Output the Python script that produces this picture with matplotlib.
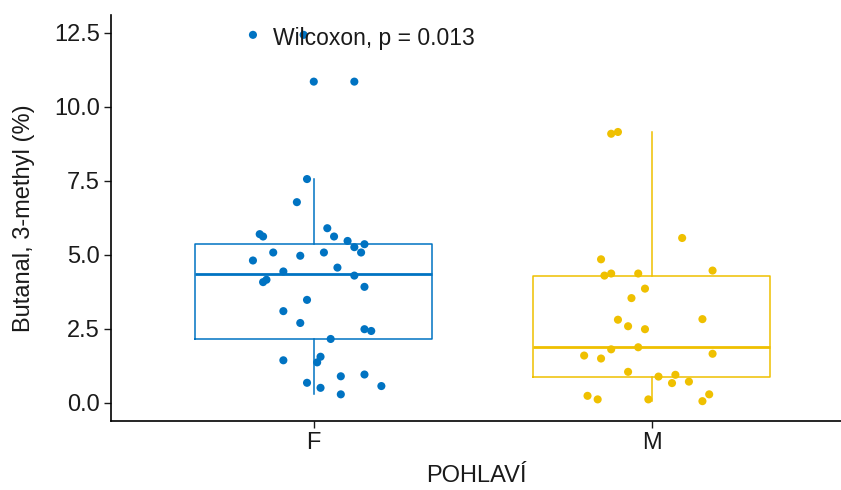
import numpy as np
import matplotlib
matplotlib.use('Agg')
import matplotlib.pyplot as plt

plt.rcParams['font.family'] = ['Liberation Sans', 'DejaVu Sans']

groups = ['F', 'M']
colors = ['#0073C2', '#EFC000']

# Butanal, 3-methyl (%) per group, with the horizontal jitter of each point
f_vals = [12.43, 12.43, 10.85, 10.85, 7.56, 6.78, 5.70, 5.62, 5.90, 5.62,
          5.47, 5.26, 5.08, 5.36, 5.08, 4.81, 4.97, 5.08, 4.57, 4.44,
          4.30, 4.16, 4.08, 3.92, 3.48, 3.10, 2.70, 2.49, 2.43, 2.16,
          1.44, 1.56, 1.37, 0.90, 0.96, 0.68, 0.51, 0.57, 0.29]
f_jit = [-0.18, -0.03, 0.00, 0.12, -0.02, -0.05, -0.16, -0.15, 0.04, 0.06,
         0.10, 0.12, 0.14, 0.15, -0.12, -0.18, -0.04, 0.03, 0.07, -0.09,
         0.12, -0.14, -0.15, 0.15, -0.02, -0.09, -0.04, 0.15, 0.17, 0.05,
         -0.09, 0.02, 0.01, 0.08, 0.15, -0.02, 0.02, 0.20, 0.08]
m_vals = [9.09, 9.15, 5.57, 4.85, 4.30, 4.37, 4.37, 4.47, 3.86, 3.54,
          2.81, 2.59, 2.49, 2.83, 1.81, 1.88, 1.60, 1.50, 1.66, 1.05,
          0.89, 0.95, 0.67, 0.72, 0.24, 0.12, 0.12, 0.06, 0.29]
m_jit = [-0.12, -0.10, 0.09, -0.15, -0.14, -0.12, -0.04, 0.18, -0.02, -0.06,
         -0.10, -0.07, -0.02, 0.15, -0.12, -0.04, -0.20, -0.15, 0.18, -0.07,
         0.02, 0.07, 0.06, 0.11, -0.19, -0.16, -0.01, 0.15, 0.17]

# box summaries (lower whisker, Q1, median, Q3, upper whisker)
whis_lo = [0.29, 0.06]
q1 = [2.17, 0.89]
med = [4.36, 1.88]
q3 = [5.37, 4.30]
whis_hi = [7.56, 9.15]

p_label = 'Wilcoxon, p = 0.013'

fig = plt.figure(figsize=(8.41, 4.90), dpi=100)
ax = fig.add_axes([111/841, 69/490, 730/841, 406/490])

for i, g in enumerate(groups):
    stats = [dict(whislo=whis_lo[i], q1=q1[i], med=med[i], q3=q3[i],
                  whishi=whis_hi[i], fliers=[])]
    ax.bxp(stats, positions=[i + 1], widths=0.7, showcaps=False,
           boxprops=dict(color=colors[i], linewidth=1.1),
           whiskerprops=dict(color=colors[i], linewidth=1.1),
           medianprops=dict(color=colors[i], linewidth=2.0),
           manage_ticks=False)

for i, (vals, jit) in enumerate([(f_vals, f_jit), (m_vals, m_jit)]):
    x = i + 1 + np.array(jit)
    ax.scatter(x, vals, s=34, color=colors[i], edgecolors='none', zorder=3)

ax.text(0.88, 12.3, p_label, fontsize=16.5, ha='left', va='center',
        color='#1a1a1a', zorder=4)

ax.set_xlim(0.4, 2.56)
ax.set_ylim(-0.61, 13.1)
ax.set_xticks([1, 2])
ax.set_xticklabels(groups)
ax.set_yticks([0, 2.5, 5, 7.5, 10, 12.5])
ax.set_yticklabels(['0.0', '2.5', '5.0', '7.5', '10.0', '12.5'])
ax.tick_params(labelsize=17, length=5, width=1, colors='#1a1a1a', pad=3)
ax.set_xlabel('POHLAVÍ', fontsize=17, color='#1a1a1a', labelpad=8)
ax.set_ylabel('Butanal, 3-methyl (%)', fontsize=17, color='#1a1a1a', labelpad=14)

for s in ['top', 'right']:
    ax.spines[s].set_visible(False)
for s in ['left', 'bottom']:
    ax.spines[s].set_linewidth(1.2)
    ax.spines[s].set_color('black')

fig.savefig('out.png', dpi=100)
